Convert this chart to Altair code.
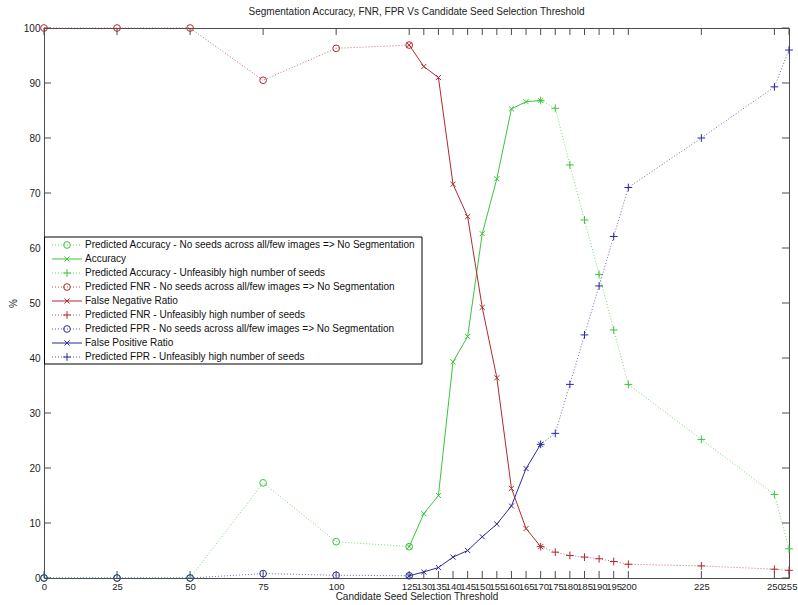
import altair as alt
import pandas as pd

# ---------------- data ----------------
x_nos = [0, 25, 50, 75, 100, 125]
x_meas = [125, 130, 135, 140, 145, 150, 155, 160, 165, 170]
x_unf = [170, 175, 180, 185, 190, 195, 200, 225, 250, 255]

acc_nos = [0, 0, 0, 17.3, 6.6, 5.7]
acc_meas = [5.7, 11.7, 15.0, 39.3, 43.9, 62.6, 72.6, 85.3, 86.6, 86.8]
acc_unf = [86.8, 85.4, 75.1, 65.1, 55.2, 45.1, 35.2, 25.2, 15.2, 5.3]

fnr_nos = [100, 100, 100, 90.5, 96.3, 96.9]
fnr_meas = [96.9, 93.0, 91.0, 71.6, 65.7, 49.2, 36.4, 16.3, 9.0, 5.7]
fnr_unf = [5.7, 4.7, 4.1, 3.8, 3.5, 3.0, 2.5, 2.2, 1.6, 1.4]

fpr_nos = [0, 0, 0, 0.8, 0.5, 0.4]
fpr_meas = [0.4, 1.1, 1.9, 3.8, 5.0, 7.5, 9.8, 13.1, 19.9, 24.3]
fpr_unf = [24.3, 26.3, 35.2, 44.2, 53.1, 62.1, 71.0, 80.0, 89.3, 96.0]

labels = [
    "Predicted Accuracy - No seeds across all/few images => No Segmentation",
    "Accuracy",
    "Predicted Accuracy - Unfeasibly high number of seeds",
    "Predicted FNR - No seeds across all/few images => No Segmentation",
    "False Negative Ratio",
    "Predicted FNR - Unfeasibly high number of seeds",
    "Predicted FPR - No seeds across all/few images => No Segmentation",
    "False Positive Ratio",
    "Predicted FPR - Unfeasibly high number of seeds",
]
series_x = [x_nos, x_meas, x_unf] * 3
series_y = [acc_nos, acc_meas, acc_unf, fnr_nos, fnr_meas, fnr_unf, fpr_nos, fpr_meas, fpr_unf]

x_ticks = [0, 25, 50, 75, 100, 125, 130, 135, 140, 145, 150, 155, 160, 165, 170,
           175, 180, 185, 190, 195, 200, 225, 250, 255]
y_ticks = [0, 10, 20, 30, 40, 50, 60, 70, 80, 90, 100]

# ---------------- styling ----------------
GREEN = "#3cc43c"
RED = "#b02a2e"
BLUE = "#2b2b9c"
AX = "#4d4d4d"
FONT = "Liberation Sans"
colors = [GREEN] * 3 + [RED] * 3 + [BLUE] * 3
PLUS = "M-1,0L1,0M0,-1L0,1"
XMARK = "M-1,-1L1,1M-1,1L1,-1"
kinds = ["nos", "meas", "unf"] * 3
shape_for = {"nos": "circle", "meas": XMARK, "unf": PLUS}
size_for = {"nos": 45, "meas": 26, "unf": 60}
DOT = [1, 2]

W, H = 745, 550

rows = []
for lbl, xs, ys in zip(labels, series_x, series_y):
    for xv, yv in zip(xs, ys):
        rows.append({"s": lbl, "x": xv, "y": yv})
df = pd.DataFrame(rows)

xscale = alt.Scale(domain=[0, 255], nice=False, zero=False)
yscale = alt.Scale(domain=[0, 100], nice=False, zero=False)
xaxis = alt.Axis(values=x_ticks, labelOverlap=False, labelFlush=False, ticks=False,
                 tickSize=0, domain=False, grid=False, labelPadding=3,
                 labelFontSize=9.5, labelFont=FONT, labelColor="#222",
                 title="Candidate Seed Selection Threshold", titleFont=FONT,
                 titleFontSize=10, titleFontWeight="normal", titlePadding=1,
                 titleColor="#222")
yaxis = alt.Axis(values=y_ticks, labelOverlap=False, labelFlush=False, ticks=False,
                 tickSize=0, domain=False, grid=False, labelPadding=4,
                 labelFontSize=10, labelFont=FONT, labelColor="#222",
                 title="%", titleFont=FONT, titleFontSize=10,
                 titleFontWeight="normal", titlePadding=5, titleColor="#222")

X = alt.X("x:Q", scale=xscale, axis=xaxis)
Y = alt.Y("y:Q", scale=yscale, axis=yaxis)

layers = []

# inward tick marks (MATLAB box style)
xt = pd.DataFrame({"x": x_ticks})
yt = pd.DataFrame({"y": y_ticks})
layers.append(alt.Chart(xt).mark_rule(color=AX, strokeWidth=1).encode(
    x=X, y=alt.value(H), y2=alt.value(H - 7)))
layers.append(alt.Chart(xt).mark_rule(color=AX, strokeWidth=1).encode(
    x=X, y=alt.value(0), y2=alt.value(7)))
layers.append(alt.Chart(yt).mark_rule(color=AX, strokeWidth=1).encode(
    y=Y, x=alt.value(0), x2=alt.value(7)))
layers.append(alt.Chart(yt).mark_rule(color=AX, strokeWidth=1).encode(
    y=Y, x=alt.value(W), x2=alt.value(W - 7)))

# data series
for lbl, col, kind in zip(labels, colors, kinds):
    base = alt.Chart(df).transform_filter(alt.datum.s == lbl)
    if kind == "meas":
        line = base.mark_line(color=col, strokeWidth=1)
    else:
        line = base.mark_line(color=col, strokeWidth=1, strokeDash=DOT, opacity=0.7)
    layers.append(line.encode(x=X, y=Y))
    layers.append(base.mark_point(shape=shape_for[kind], filled=False, color=col,
                                  size=size_for[kind], strokeWidth=1, opacity=1)
                  .encode(x=X, y=Y))

# legend box
one = pd.DataFrame({"k": [0]})
layers.append(alt.Chart(one).mark_rect(fill="white", stroke="black", strokeWidth=1).encode(
    x=alt.value(0.5), x2=alt.value(378), y=alt.value(209), y2=alt.value(336)))
for i, (lbl, col, kind) in enumerate(zip(labels, colors, kinds)):
    py = 217 + 14 * i
    if kind == "meas":
        r = alt.Chart(one).mark_rule(color=col, strokeWidth=1)
    else:
        r = alt.Chart(one).mark_rule(color=col, strokeWidth=1, strokeDash=DOT, opacity=0.8)
    layers.append(r.encode(x=alt.value(8), x2=alt.value(38), y=alt.value(py)))
    layers.append(alt.Chart(one).mark_point(shape=shape_for[kind], filled=False, color=col,
                                            size=size_for[kind], strokeWidth=1, opacity=1)
                  .encode(x=alt.value(23), y=alt.value(py)))
    layers.append(alt.Chart(pd.DataFrame({"label": [lbl]})).mark_text(
        align="left", baseline="middle", font=FONT, fontSize=10, color="#111").encode(
        x=alt.value(41), y=alt.value(py), text="label:N"))

chart = alt.layer(*layers).properties(
    width=W, height=H,
    title=alt.TitleParams("Segmentation Accuracy, FNR, FPR Vs Candidate Seed Selection Threshold",
                          font=FONT, fontSize=10, fontWeight="normal", color="#222",
                          anchor="middle", offset=6),
    autosize=alt.AutoSizeParams(type="none"),
    padding={"left": 44, "top": 28, "right": 9, "bottom": 27},
    background="white",
).configure_view(stroke=AX, strokeWidth=1)

chart.save("out.html", embed_options={"renderer": "svg", "actions": False})
